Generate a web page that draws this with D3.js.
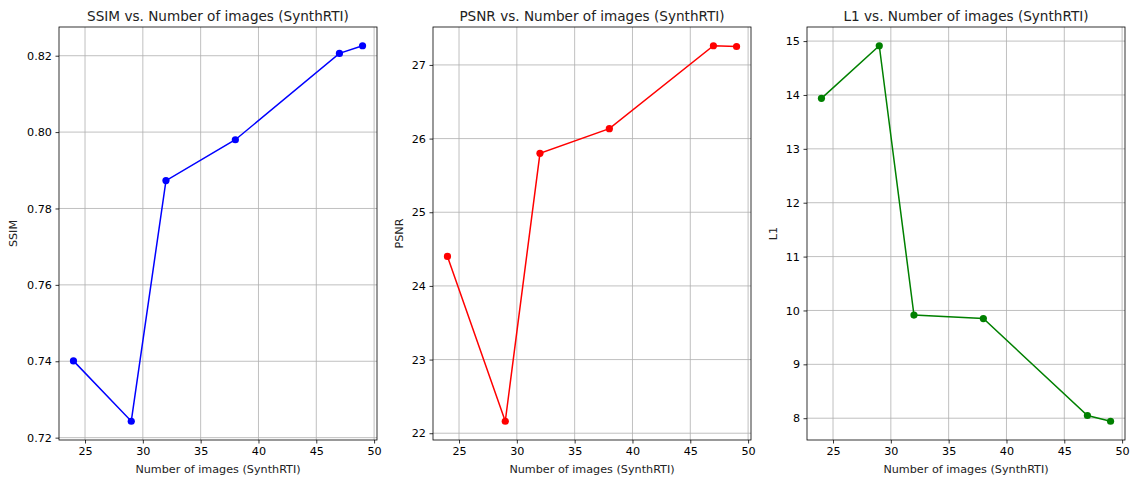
<!DOCTYPE html>
<html lang="en">
  <head>
    <meta charset="UTF-8" />
    <title>metrics vs images</title>
    <script src="https://cdn.jsdelivr.net/npm/d3@7/dist/d3.min.js"></script>
    <style>
      body { margin: 0; background: #fff; }
      text { font-family: "DejaVu Sans", sans-serif; fill: #000; }
    </style>
  </head>
  <body>
    <div id="wrapper"></div>
    <script>
      // data
      const numImages = [24, 29, 32, 38, 47, 49];
      const ssim = [0.7401, 0.7243, 0.7873, 0.798, 0.8206, 0.8226];
      const psnr = [24.4, 22.163, 25.8, 26.135, 27.26, 27.25];
      const l1 = [13.937, 14.913, 9.915, 9.85, 8.05, 7.944];

      const xTicks = [25, 30, 35, 40, 45, 50];
      const ssimTicks = [0.72, 0.74, 0.76, 0.78, 0.8, 0.82];
      const psnrTicks = [22, 23, 24, 25, 26, 27];
      const l1Ticks = [8, 9, 10, 11, 12, 13, 14, 15];

      const panels = [
        { name: "SSIM", values: ssim, ticks: ssimTicks, fmt: d3.format(".2f"), color: "#0000ff", left: 59 },
        { name: "PSNR", values: psnr, ticks: psnrTicks, fmt: d3.format("d"), color: "#ff0000", left: 433 },
        { name: "L1", values: l1, ticks: l1Ticks, fmt: d3.format("d"), color: "#008000", left: 807 },
      ];

      const width = 1133, height = 481;
      const plotW = 318, plotTop = 27, plotH = 413;
      const tickFont = "11.2px", titleFont = "13.6px";

      const svg = d3.select("#wrapper")
        .append("svg")
        .attr("width", width)
        .attr("height", height);

      // matplotlib-style 5% padding around the data
      function padded(vals) {
        const [lo, hi] = d3.extent(vals);
        const m = (hi - lo) * 0.05;
        return [lo - m, hi + m];
      }

      panels.forEach((p) => {
        const g = svg.append("g").attr("transform", `translate(${p.left},${plotTop})`);

        const x = d3.scaleLinear().domain(padded(numImages)).range([0, plotW]);
        const y = d3.scaleLinear().domain(padded(p.values)).range([plotH, 0]);
        const yTicks = p.ticks.filter((t) => t >= y.domain()[0] && t <= y.domain()[1]);

        // grid
        g.append("g").selectAll("line").data(xTicks).join("line")
          .attr("x1", (d) => x(d)).attr("x2", (d) => x(d))
          .attr("y1", 0).attr("y2", plotH)
          .attr("stroke", "#b0b0b0").attr("stroke-width", 0.8);
        g.append("g").selectAll("line").data(yTicks).join("line")
          .attr("x1", 0).attr("x2", plotW)
          .attr("y1", (d) => y(d)).attr("y2", (d) => y(d))
          .attr("stroke", "#b0b0b0").attr("stroke-width", 0.8);

        // axes
        const xAxis = g.append("g")
          .attr("transform", `translate(0,${plotH})`)
          .call(d3.axisBottom(x).tickValues(xTicks).tickSize(3.5).tickPadding(3.5).tickFormat(d3.format("d")));
        const yAxis = g.append("g")
          .call(d3.axisLeft(y).tickValues(yTicks).tickSize(3.5).tickPadding(3.5).tickFormat(p.fmt));
        [xAxis, yAxis].forEach((a) => {
          a.select(".domain").remove();
          a.selectAll("line").attr("stroke", "#000").attr("stroke-width", 0.8);
          a.selectAll("text").style("font-size", tickFont).style("font-family", "DejaVu Sans").attr("fill", "#222");
        });

        // frame
        g.append("rect")
          .attr("width", plotW).attr("height", plotH)
          .attr("fill", "none").attr("stroke", "#000").attr("stroke-width", 0.8);

        // series
        const line = d3.line()
          .x((d, i) => x(numImages[i]))
          .y((d) => y(d));
        g.append("path")
          .attr("d", line(p.values))
          .attr("fill", "none")
          .attr("stroke", p.color)
          .attr("stroke-width", 1.5);
        g.append("g").selectAll("circle").data(p.values).join("circle")
          .attr("cx", (d, i) => x(numImages[i]))
          .attr("cy", (d) => y(d))
          .attr("r", 3.6)
          .attr("fill", p.color);

        // labels
        g.append("text")
          .attr("x", plotW / 2).attr("y", -6)
          .attr("text-anchor", "middle")
          .style("font-size", titleFont)
          .style("fill", "#222")
          .text(`${p.name} vs. Number of images (SynthRTI)`);
        g.append("text")
          .attr("x", plotW / 2).attr("y", plotH + 33)
          .attr("text-anchor", "middle")
          .style("font-size", tickFont)
          .style("fill", "#222")
          .text("Number of images (SynthRTI)");
        const yLabelX = p.name === "SSIM" ? -42 : -30;
        g.append("text")
          .attr("transform", `translate(${yLabelX},${plotH / 2}) rotate(-90)`)
          .attr("text-anchor", "middle")
          .style("font-size", tickFont)
          .style("fill", "#222")
          .text(p.name);
      });
    </script>
  </body>
</html>
